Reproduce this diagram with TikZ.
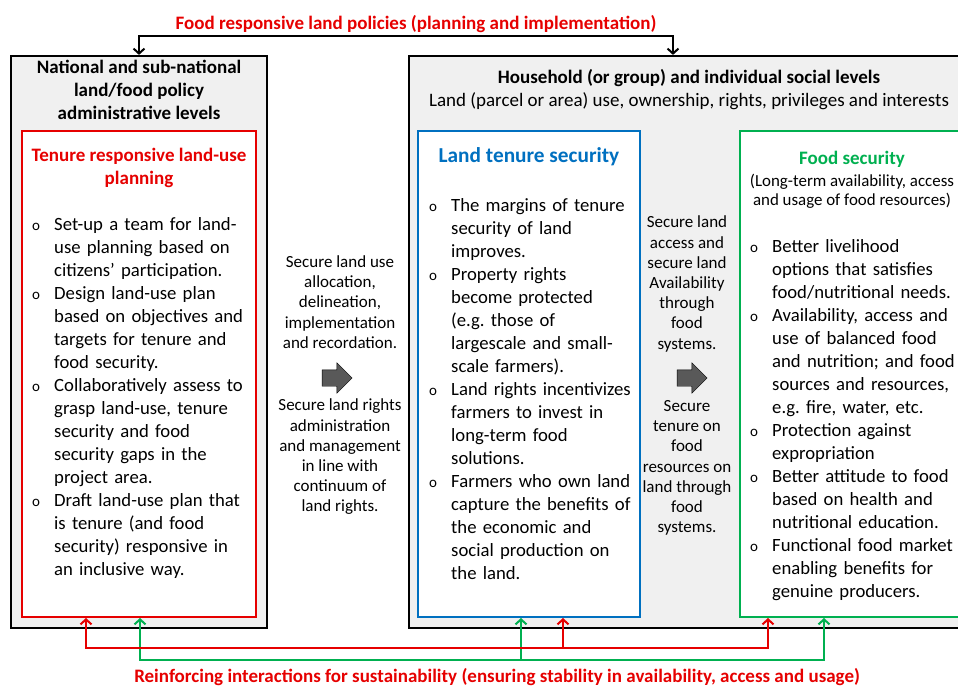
\documentclass[tikz,border=0pt]{standalone}
\usepackage{fontspec}
\setmainfont{Carlito}
\usepackage{tikz}
\usetikzlibrary{shapes,arrows.meta,backgrounds}
\usetikzlibrary{positioning, shapes.geometric}
\definecolor{fred}{RGB}{230,0,0}
\definecolor{fblue}{HTML}{0070C0}
\definecolor{fgreen}{HTML}{00B050}
\definecolor{fgray}{HTML}{F0F0F0}
\definecolor{farrow}{HTML}{595959}
% one bullet of a list, lines broken by hand
\newcommand{\bul}[1]{\par\noindent\hangindent=22pt\hangafter=1%
  \makebox[22pt][l]{\fontsize{15}{15}\selectfont o}#1\par}
\tikzset{
  lvlbox/.style={ draw, line width=2.2pt, fill=fgray, inner sep=0pt }
}
\tikzset{
  inbox/.style={ draw=#1, line width=2pt, fill=white, inner sep=0pt }
}
\tikzset{
  lsttxt/.style={ inner sep=0pt, anchor=north west, align=left, font=\fontsize{18.7}{23}\selectfont }
}
\tikzset{
  midtxt/.style={ inner sep=0pt, align=center, font=\fontsize{17}{20.2}\selectfont }
}
\tikzset{
  hdtxt/.style={ inner sep=0pt, align=center, font=\bfseries\fontsize{19}{23}\selectfont }
}
\tikzset{
  blkarr/.style={ single arrow, draw, thin, fill=farrow, inner sep=8pt, minimum height=30pt,
    single arrow head extend=7pt }
}
\tikzset{
  flow/.style={ line width=2pt }
}

\begin{document}
\begin{tikzpicture}[y=-1pt, x=1pt, >={Straight Barb[length=5pt,width=11pt]}]
  \useasboundingbox (0,0) rectangle (958,686);
  \clip (0,0) rectangle (958,686);
  % the two levels
  \node[lvlbox, minimum width=256pt, minimum height=572pt] (natbox) at (139,342) {};
  \node[lvlbox, minimum width=566pt, minimum height=572pt] (hhbox) at (692,342) {};
  \node[inbox=fred, minimum width=234pt, minimum height=486pt] (tenbox) at (139,374) {};
  \node[inbox=fblue, minimum width=222pt, minimum height=486pt] (ltsbox) at (529,374) {};
  \node[inbox=fgreen, minimum width=226pt, minimum height=486pt] (fsbox) at (853,374) {};
  % headings
  \node[hdtxt, text=fred] (toplbl) at (416,24) {Food responsive land policies (planning and implementation)};
  \node[hdtxt] (nathead) at (139,90) {National and sub-national\\land/food policy\\administrative levels};
  \node[inner sep=0pt, align=center, font=\fontsize{19}{23}\selectfont] (hhhead) at (689,90)
    {\textbf{Household (or group) and individual social levels}\\Land (parcel or area) use, ownership, rights, privileges and interests};
  \node[hdtxt, text=fred] (tentitle) at (139,168) {Tenure responsive land-use\\planning};
  \node[hdtxt, text=fblue, font=\bfseries\fontsize{21.3}{25}\selectfont] (ltstitle) at (529,157) {Land tenure security};
  \node[hdtxt, text=fgreen] (fstitle) at (852,159) {Food security};
  \node[midtxt, font=\fontsize{16.9}{19}\selectfont] (fssub) at (852,191)
    {(Long-term availability, access\\and usage of food resources)};
  % lists
  \node[lsttxt, text width=232pt] (tenlist) at (32,207) {%
    \bul{Set-up a team for land-\newline use planning based on\newline citizens' participation.}%
    \bul{Design land-use plan\newline based on objectives and\newline targets for tenure and\newline food security.}%
    \bul{Collaboratively assess to\newline grasp land-use, tenure\newline security and food\newline security gaps in the\newline project area.}%
    \bul{Draft land-use plan that\newline is tenure (and food\newline security) responsive in\newline an inclusive way.}};
  \node[lsttxt, text width=218pt] (ltslist) at (429,188) {%
    \bul{The margins of tenure\newline security of land\newline improves.}%
    \bul{Property rights\newline become protected\newline (e.g.\ those of\newline largescale and small-\newline scale farmers).}%
    \bul{Land rights incentivizes\newline farmers to invest in\newline long-term food\newline solutions.}%
    \bul{Farmers who own land\newline capture the benefits of\newline the economic and\newline social production on\newline the land.}};
  \node[lsttxt, text width=218pt] (fslist) at (750,229) {%
    \bul{Better livelihood\newline options that satisfies\newline food/nutritional needs.}%
    \bul{Availability, access and\newline use of balanced food\newline and nutrition; and food\newline sources and resources,\newline e.g.\ fire, water, etc.}%
    \bul{Protection against\newline expropriation}%
    \bul{Better attitude to food\newline based on health and\newline nutritional education.}%
    \bul{Functional food market\newline enabling benefits for\newline genuine producers.}};
  % between the boxes
  \node[midtxt] (midA) at (340,302) {Secure land use\\allocation,\\delineation,\\implementation\\and recordation.};
  \node[blkarr] (arrA) at (333,378) {};
  \node[midtxt] (midB) at (340,457) {Secure land rights\\administration\\and management\\in line with\\continuum of\\land rights.};
  \node[midtxt] (midC) at (687,284) {Secure land\\access and\\secure land\\Availability\\through\\food\\systems.};
  \node[blkarr] (arrB) at (688,378) {};
  \node[midtxt] (midD) at (687,468) {Secure\\tenure on\\food\\resources on\\land through\\food\\systems.};
  % connectors
  \draw[flow, <->] (natbox.north) -- ++(0,-19) -| ([xshift=-19pt]hhbox.north);
  \draw[flow, fgreen, <->] ([xshift=1pt]tenbox.south) -- ++(0,42) -| ([xshift=-29pt]fsbox.south);
  \draw[flow, fgreen, ->] ([xshift=-8pt]ltsbox.south) ++(0,42) -- ++(0,-42);
  \draw[flow, fred, <->] ([xshift=-53pt]tenbox.south) -- ++(0,30) -| ([xshift=-85pt]fsbox.south);
  \draw[flow, fred, ->] ([xshift=34pt]ltsbox.south) ++(0,30) -- ++(0,-30);
  \node[hdtxt, text=fred] (botlbl) at (497,677) {Reinforcing interactions for sustainability (ensuring stability in availability, access and usage)};
\end{tikzpicture}
\end{document}
